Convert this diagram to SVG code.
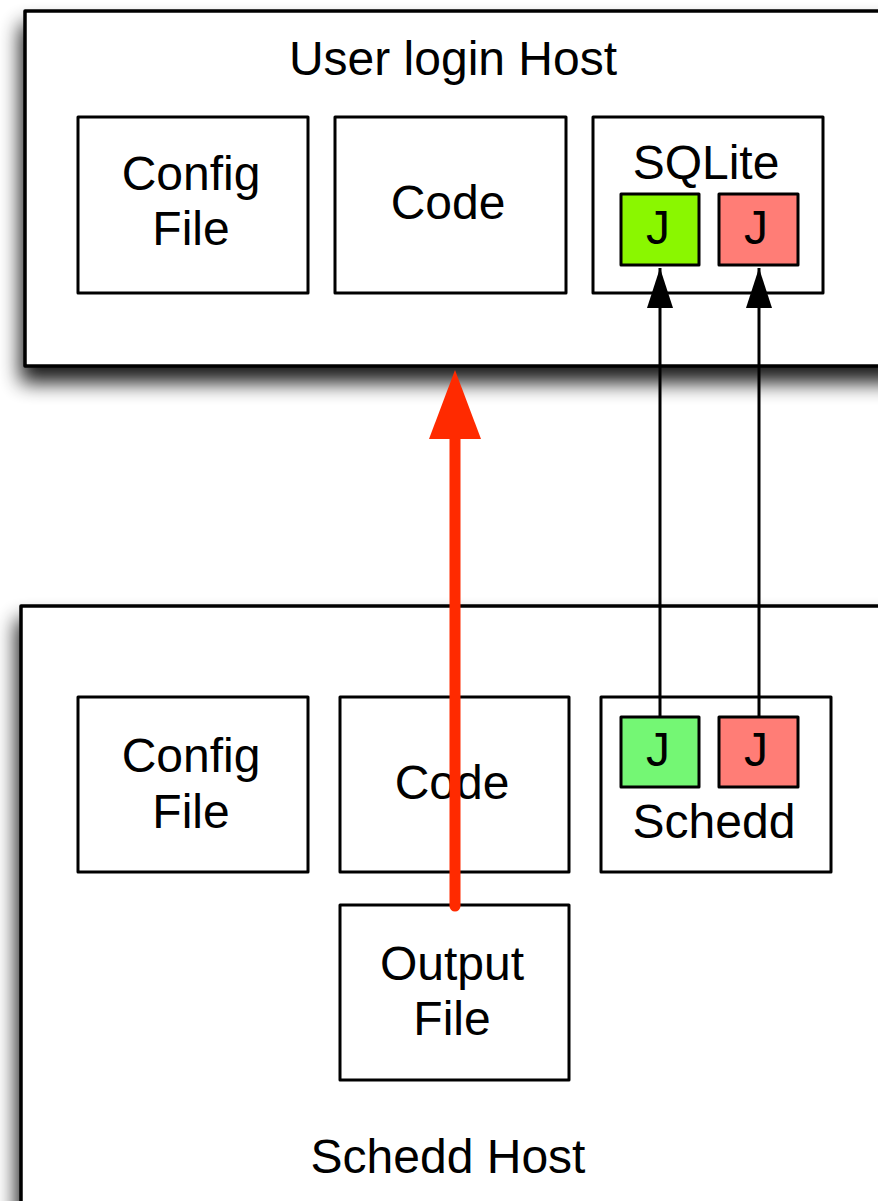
<svg xmlns="http://www.w3.org/2000/svg" width="878" height="1201" viewBox="0 0 878 1201">
<style>
.box{fill:#fff;stroke:#000;stroke-width:3;stroke-linejoin:round}
.host{fill:#fff;stroke:#000;stroke-width:3.5;stroke-linejoin:round}
text{font-family:"Liberation Sans",Arial,Helvetica,sans-serif;font-size:48px;fill:#000;text-anchor:middle}
.conn{stroke:#000;stroke-width:3;fill:none}
</style>
<defs>
<filter id="shadow" x="-10%" y="-10%" width="130%" height="140%">
<feGaussianBlur in="SourceAlpha" stdDeviation="10"/>
<feOffset dx="-3" dy="15" result="b"/>
<feComponentTransfer><feFuncA type="linear" slope="0.9"/></feComponentTransfer>
<feMerge><feMergeNode/><feMergeNode in="SourceGraphic"/></feMerge>
</filter>
<marker id="ah" markerWidth="40" markerHeight="26" refX="40" refY="13" orient="auto" markerUnits="userSpaceOnUse" viewBox="0 0 40 26">
<path d="M40,13 L0,0 L0,26 Z" fill="#000"/>
</marker>
</defs>
<rect width="878" height="1201" fill="#fff"/>

<g id="user-login-host">
<rect class="host" x="25" y="11" width="880" height="355" filter="url(#shadow)"/>
<text x="453" y="75">User login Host</text>
</g>
<g id="schedd-host">
<rect class="host" x="21" y="606" width="880" height="620" filter="url(#shadow)"/>
<text x="448" y="1173">Schedd Host</text>
</g>

<g id="top-config">
<rect class="box" x="78" y="117" width="230" height="176"/>
<text x="191" y="190">Config</text>
<text x="191" y="245">File</text>
</g>
<g id="top-code">
<rect class="box" x="335" y="117" width="231" height="176"/>
<text x="448" y="219">Code</text>
</g>
<g id="sqlite">
<rect class="box" x="593" y="117" width="230" height="176"/>
<text x="706" y="179">SQLite</text>
<rect class="box" x="621" y="194" width="78" height="71" style="fill:#8af700"/>
<text x="658" y="244">J</text>
<rect class="box" x="719" y="194" width="79" height="71" style="fill:#ff7d76"/>
<text x="756" y="244">J</text>
</g>

<g id="bottom-config">
<rect class="box" x="78" y="697" width="230" height="175"/>
<text x="191" y="772">Config</text>
<text x="191" y="828">File</text>
</g>
<g id="bottom-code">
<rect class="box" x="340" y="697" width="229" height="175"/>
<text x="452" y="799">Code</text>
</g>
<g id="schedd">
<rect class="box" x="601" y="697" width="230" height="175"/>
<rect class="box" x="621" y="717" width="78" height="70" style="fill:#74f774"/>
<text x="658" y="766">J</text>
<rect class="box" x="719" y="717" width="79" height="70" style="fill:#ff7d76"/>
<text x="756" y="766">J</text>
<text x="714" y="838">Schedd</text>
</g>
<g id="output-file">
<rect class="box" x="340" y="905" width="229" height="175"/>
<text x="452" y="980">Output</text>
<text x="452" y="1035">File</text>
</g>

<g id="connectors">
<line class="conn" x1="660" y1="717" x2="660" y2="268" marker-end="url(#ah)"/>
<line class="conn" x1="759" y1="717" x2="759" y2="268" marker-end="url(#ah)"/>
<line x1="455" y1="906" x2="455" y2="430" stroke="#ff2a00" stroke-width="11" stroke-linecap="round"/>
<path d="M455,370 L481,439 L429,439 Z" fill="#ff2a00"/>
</g>
</svg>
